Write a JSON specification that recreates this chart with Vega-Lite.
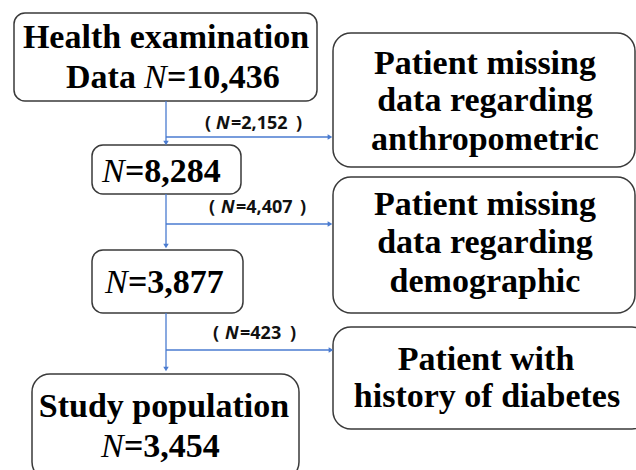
{
  "$schema": "https://vega.github.io/schema/vega-lite/v6.json",
  "width": 636,
  "height": 470,
  "padding": 0,
  "autosize": "none",
  "background": "white",
  "config": {"view": {"stroke": null}},
  "datasets": {
    "boxes": [
      {"box": "Health examination", "kind": "small", "x1": 14, "x2": 317, "y1": 13, "y2": 101},
      {"box": "N=8,284", "kind": "small", "x1": 92, "x2": 241, "y1": 145, "y2": 194},
      {"box": "N=3,877", "kind": "small", "x1": 92, "x2": 243, "y1": 250, "y2": 313},
      {"box": "Study population", "kind": "large", "x1": 32, "x2": 299, "y1": 374, "y2": 480},
      {"box": "Missing anthropometric", "kind": "large", "x1": 333, "x2": 635, "y1": 33, "y2": 167},
      {"box": "Missing demographic", "kind": "large", "x1": 333, "x2": 635, "y1": 177, "y2": 313},
      {"box": "History of diabetes", "kind": "large", "x1": 333, "x2": 650, "y1": 327, "y2": 429}
    ],
    "links": [
      {"x1": 166, "y1": 101, "x2": 166, "y2": 142},
      {"x1": 166, "y1": 137, "x2": 329, "y2": 137},
      {"x1": 166, "y1": 194, "x2": 166, "y2": 244},
      {"x1": 166, "y1": 224, "x2": 329, "y2": 224},
      {"x1": 166, "y1": 313, "x2": 166, "y2": 368},
      {"x1": 166, "y1": 350, "x2": 330, "y2": 350}
    ],
    "arrows": [
      {"dir": "down", "x": 166, "y": 143},
      {"dir": "down", "x": 166, "y": 246},
      {"dir": "down", "x": 166, "y": 369},
      {"dir": "right", "x": 330, "y": 137},
      {"dir": "right", "x": 330, "y": 224},
      {"dir": "right", "x": 331, "y": 350}
    ],
    "texts": [
      {"style": "serif-center", "text": "Health examination", "x": 166, "y": 48},
      {"style": "serif-left", "text": "Data", "x": 66, "y": 88},
      {"style": "serif-italic", "text": "N", "x": 144, "y": 88},
      {"style": "serif-left", "text": "=10,436", "x": 167, "y": 88},
      {"style": "serif-italic", "text": "N", "x": 102, "y": 182},
      {"style": "serif-left", "text": "=8,284", "x": 125, "y": 182},
      {"style": "serif-italic", "text": "N", "x": 105, "y": 293},
      {"style": "serif-left", "text": "=3,877", "x": 128, "y": 293},
      {"style": "serif-center", "text": "Study population", "x": 164, "y": 417},
      {"style": "serif-italic", "text": "N", "x": 101, "y": 457},
      {"style": "serif-left", "text": "=3,454", "x": 124, "y": 457},
      {"style": "serif-center", "text": "Patient missing", "x": 485, "y": 74},
      {"style": "serif-center", "text": "data regarding", "x": 485, "y": 111},
      {"style": "serif-center", "text": "anthropometric", "x": 485, "y": 150},
      {"style": "serif-center", "text": "Patient missing", "x": 485, "y": 215},
      {"style": "serif-center", "text": "data regarding", "x": 485, "y": 253},
      {"style": "serif-center", "text": "demographic", "x": 485, "y": 292},
      {"style": "serif-center", "text": "Patient with", "x": 486, "y": 370},
      {"style": "serif-center", "text": "history of diabetes", "x": 487, "y": 407},
      {"style": "sans", "text": "(", "x": 205, "y": 129},
      {"style": "sans-italic", "text": "N", "x": 216, "y": 129},
      {"style": "sans", "text": "=2,152", "x": 231, "y": 129},
      {"style": "sans", "text": ")", "x": 296, "y": 129},
      {"style": "sans", "text": "(", "x": 209, "y": 213},
      {"style": "sans-italic", "text": "N", "x": 221, "y": 213},
      {"style": "sans", "text": "=4,407", "x": 236, "y": 213},
      {"style": "sans", "text": ")", "x": 300, "y": 213},
      {"style": "sans", "text": "(", "x": 213, "y": 339},
      {"style": "sans-italic", "text": "N", "x": 225, "y": 339},
      {"style": "sans", "text": "=423", "x": 240, "y": 339},
      {"style": "sans", "text": ")", "x": 290, "y": 339}
    ]
  },
  "layer": [
    {
      "data": {"name": "boxes"},
      "transform": [{"filter": "datum.kind === 'small'"}],
      "mark": {"type": "rect", "fill": "white", "stroke": "#3a3a3a", "strokeWidth": 1.5, "cornerRadius": 11},
      "encoding": {
        "x": {"field": "x1", "type": "quantitative", "scale": {"domain": [0, 636], "nice": false, "zero": false}, "axis": null},
        "x2": {"field": "x2"},
        "y": {"field": "y1", "type": "quantitative", "scale": {"domain": [0, 470], "nice": false, "zero": false, "reverse": true}, "axis": null},
        "y2": {"field": "y2"}
      }
    },
    {
      "data": {"name": "boxes"},
      "transform": [{"filter": "datum.kind === 'large'"}],
      "mark": {"type": "rect", "fill": "white", "stroke": "#3a3a3a", "strokeWidth": 1.5, "cornerRadius": 18},
      "encoding": {
        "x": {"field": "x1", "type": "quantitative", "axis": null},
        "x2": {"field": "x2"},
        "y": {"field": "y1", "type": "quantitative", "axis": null},
        "y2": {"field": "y2"}
      }
    },
    {
      "data": {"name": "links"},
      "mark": {"type": "rule", "color": "#4a7bd0", "strokeWidth": 1.3},
      "encoding": {
        "x": {"field": "x1", "type": "quantitative", "axis": null},
        "x2": {"field": "x2"},
        "y": {"field": "y1", "type": "quantitative", "axis": null},
        "y2": {"field": "y2"}
      }
    },
    {
      "data": {"name": "arrows"},
      "transform": [{"filter": "datum.dir === 'down'"}],
      "mark": {"type": "point", "shape": "triangle-down", "filled": true, "color": "#4a7bd0", "size": 30, "opacity": 1},
      "encoding": {
        "x": {"field": "x", "type": "quantitative", "axis": null},
        "y": {"field": "y", "type": "quantitative", "axis": null}
      }
    },
    {
      "data": {"name": "arrows"},
      "transform": [{"filter": "datum.dir === 'right'"}],
      "mark": {"type": "point", "shape": "triangle-right", "filled": true, "color": "#4a7bd0", "size": 30, "opacity": 1},
      "encoding": {
        "x": {"field": "x", "type": "quantitative", "axis": null},
        "y": {"field": "y", "type": "quantitative", "axis": null}
      }
    },
    {
      "data": {"name": "texts"},
      "transform": [{"filter": "datum.style === 'serif-center'"}],
      "mark": {"type": "text", "font": "Liberation Serif", "fontWeight": "bold", "fontSize": 34, "align": "center", "baseline": "alphabetic", "color": "black"},
      "encoding": {
        "x": {"field": "x", "type": "quantitative", "axis": null},
        "y": {"field": "y", "type": "quantitative", "axis": null},
        "text": {"field": "text"}
      }
    },
    {
      "data": {"name": "texts"},
      "transform": [{"filter": "datum.style === 'serif-left'"}],
      "mark": {"type": "text", "font": "Liberation Serif", "fontWeight": "bold", "fontSize": 34, "align": "left", "baseline": "alphabetic", "color": "black"},
      "encoding": {
        "x": {"field": "x", "type": "quantitative", "axis": null},
        "y": {"field": "y", "type": "quantitative", "axis": null},
        "text": {"field": "text"}
      }
    },
    {
      "data": {"name": "texts"},
      "transform": [{"filter": "datum.style === 'serif-italic'"}],
      "mark": {"type": "text", "font": "Liberation Serif", "fontStyle": "italic", "fontWeight": "normal", "fontSize": 34, "align": "left", "baseline": "alphabetic", "color": "black"},
      "encoding": {
        "x": {"field": "x", "type": "quantitative", "axis": null},
        "y": {"field": "y", "type": "quantitative", "axis": null},
        "text": {"field": "text"}
      }
    },
    {
      "data": {"name": "texts"},
      "transform": [{"filter": "datum.style === 'sans'"}],
      "mark": {"type": "text", "font": "Noto Sans", "fontWeight": "bold", "fontSize": 18, "align": "left", "baseline": "alphabetic", "color": "#111111"},
      "encoding": {
        "x": {"field": "x", "type": "quantitative", "axis": null},
        "y": {"field": "y", "type": "quantitative", "axis": null},
        "text": {"field": "text"}
      }
    },
    {
      "data": {"name": "texts"},
      "transform": [{"filter": "datum.style === 'sans-italic'"}],
      "mark": {"type": "text", "font": "Noto Sans", "fontWeight": "bold", "fontStyle": "italic", "fontSize": 18, "align": "left", "baseline": "alphabetic", "color": "#111111"},
      "encoding": {
        "x": {"field": "x", "type": "quantitative", "axis": null},
        "y": {"field": "y", "type": "quantitative", "axis": null},
        "text": {"field": "text"}
      }
    }
  ]
}
